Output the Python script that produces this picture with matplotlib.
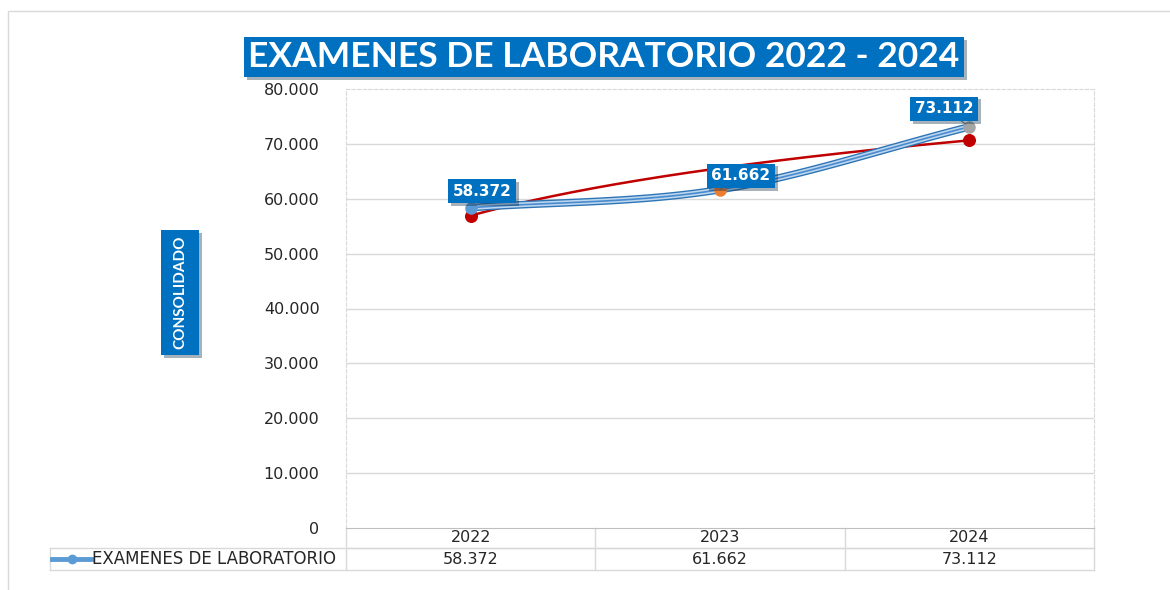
import numpy as np
import matplotlib.pyplot as plt
import matplotlib.patheffects as pe
from matplotlib.transforms import blended_transform_factory

years = ['2022', '2023', '2024']
valores = [58372, 61662, 73112]
serie = 'EXAMENES DE LABORATORIO'
marker_colors = ['#5B9BD5', '#ED7D31', '#A5A5A5']
yticks = [0, 10000, 20000, 30000, 40000, 50000, 60000, 70000, 80000]

BLUE = '#0070C0'
GRID = '#D9D9D9'


def fmt(v):
    return f'{v:,.0f}'.replace(',', '.')


def smooth(xs, ys, n=40):
    # catmull-rom like excel "smoothed line"
    px = np.concatenate([[2 * xs[0] - xs[1]], xs, [2 * xs[-1] - xs[-2]]])
    py = np.concatenate([[2 * ys[0] - ys[1]], ys, [2 * ys[-1] - ys[-2]]])
    ox, oy = [], []
    for i in range(1, len(px) - 2):
        t = np.linspace(0, 1, n)
        for arr, out in ((px, ox), (py, oy)):
            p0, p1, p2, p3 = arr[i - 1], arr[i], arr[i + 1], arr[i + 2]
            out.extend(0.5 * ((2 * p1) + (-p0 + p2) * t
                              + (2 * p0 - 5 * p1 + 4 * p2 - p3) * t ** 2
                              + (-p0 + 3 * p1 - 3 * p2 + p3) * t ** 3))
    return np.array(ox), np.array(oy)


W, H = 1170, 590
fig = plt.figure(figsize=(W / 100, H / 100), dpi=100)
shadow = [pe.SimplePatchShadow(offset=(2, -2), alpha=0.35), pe.Normal()]

# outer chart border
fig.add_artist(plt.Rectangle((8 / W, -0.1), 1.2, 1 - 11 / H + 0.1, transform=fig.transFigure,
                             fill=False, ec='#D9D9D9', lw=1))

left, right, top, bottom = 346, 1094, 89, 528
ax = fig.add_axes([left / W, 1 - bottom / H, (right - left) / W, (bottom - top) / H])

x = np.arange(len(years)) + 0.5
ax.set_xlim(0, 3)
ax.set_ylim(0, 80000)
ax.set_yticks(yticks)
ax.set_yticklabels([fmt(v) for v in yticks], fontsize=11.5, color='#262626')
ax.set_xticks([])
ax.tick_params(axis='y', length=0, pad=19)
for yt in yticks[1:-1]:
    ax.axhline(yt, color=GRID, lw=1, zorder=0)
for side in ['left', 'right', 'top']:
    ax.spines[side].set_color(GRID)
    ax.spines[side].set_linestyle((0, (3, 2)))
ax.spines['bottom'].set_color('#BFBFBF')

# logarithmic trendline
lx = np.log(np.arange(1, len(valores) + 1))
b, a = np.polyfit(lx, valores, 1)
tx = np.linspace(1, len(valores), 200)
ax.plot(tx - 0.5, a + b * np.log(tx), color='#C00000', lw=1.8, zorder=3)
ends = [a, a + b * np.log(len(valores))]
ax.scatter([x[0], x[-1]], ends, s=70, marker='o', color='#C00000', zorder=3)

# smoothed series, compound line look
sx, sy = smooth(x, np.array(valores, float))
ax.plot(sx, sy, color='#2E75B6', lw=5.5, solid_capstyle='round', zorder=4)
ax.plot(sx, sy, color='#BDD7EE', lw=3.5, solid_capstyle='round', zorder=4)
ax.plot(sx, sy, color='#4A8BD0', lw=1.2, solid_capstyle='round', zorder=4)
for xi, v, c in zip(x, valores, marker_colors):
    ax.plot(xi, v, 'o', color=c, ms=8, mec=c, zorder=5)

offsets = [(8, 12), (15, 10), (-18, 13)]
for xi, v, off in zip(x, valores, offsets):
    t = ax.annotate(fmt(v), (xi, v), xytext=off, textcoords='offset points',
                    ha='center', va='center', color='white', fontsize=11,
                    fontweight='bold', zorder=6,
                    bbox=dict(boxstyle='square,pad=0.3', fc=BLUE, ec='none'),
                    arrowprops=dict(arrowstyle='-', color='#7F7F7F', lw=0.8,
                                    shrinkA=0, shrinkB=3))
    t.get_bbox_patch().set_path_effects(shadow)

# data table under the axis
tr = blended_transform_factory(ax.transData, ax.transAxes)
ph = bottom - top
r1 = -20 / ph
r2 = -42 / ph
xl = (50 - left) / (right - left) * 3
kw = dict(transform=tr, clip_on=False, color=GRID, lw=1)
ax.plot([0, 3], [r1, r1], **kw)
ax.plot([xl, 3], [r1, r1], **kw)
ax.plot([xl, 3], [r2, r2], **kw)
ax.plot([xl, xl], [r1, r2], **kw)
for xv in [0, 1, 2, 3]:
    ax.plot([xv, xv], [0, r2], **kw)
for xi, yr, v in zip(x, years, valores):
    ax.text(xi, r1 / 2, yr, transform=tr, ha='center', va='center', fontsize=11.5,
            color='#262626')
    ax.text(xi, (r1 + r2) / 2, fmt(v), transform=tr, ha='center', va='center', fontsize=11.5,
            color='#262626')
ax.text(xl + 0.17, (r1 + r2) / 2, serie, transform=tr, ha='left', va='center', fontsize=12,
        color='#262626')
kx = xl + np.array([0.01, 0.165])
ky = (r1 + r2) / 2
ax.plot(kx, [ky, ky], transform=tr, clip_on=False, color='#5B9BD5', lw=3.5)
ax.plot(kx.mean(), ky, 'o', transform=tr, clip_on=False, color='#5B9BD5', ms=6)

# title
tt = fig.text(604 / W, 1 - 57 / H, 'EXAMENES DE LABORATORIO 2022 - 2024', ha='center',
              va='center', color='white', fontsize=25.5, fontweight='bold', family='Lato',
              bbox=dict(boxstyle='square,pad=0.12', fc=BLUE, ec='none'))
tt.get_bbox_patch().set_path_effects(shadow)

# vertical axis title box
box = plt.Rectangle((161 / W, 1 - 355 / H), 38 / W, 125 / H, transform=fig.transFigure,
                    fc=BLUE, ec='none')
box.set_path_effects(shadow)
fig.add_artist(box)
fig.text(180 / W, 1 - 292 / H, 'CONSOLIDADO', ha='center', va='center', rotation=90,
         color='white', fontsize=11, fontweight='bold', family='Lato')

fig.savefig('out.png', dpi=100)
